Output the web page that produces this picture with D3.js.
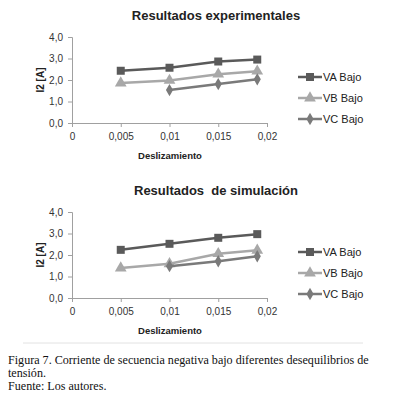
<!DOCTYPE html>
<html><head><meta charset="utf-8">
<script src="https://cdn.jsdelivr.net/npm/d3@7"></script>
<style>body{margin:0;background:#fff}svg{display:block}</style>
</head><body>
<script>
const xValues = [0.005, 0.01, 0.015, 0.019];
const seriesNames = ["VA Bajo", "VB Bajo", "VC Bajo"];
const expVA = [2.43, 2.57, 2.86, 2.95];
const expVB = [1.86, 1.98, 2.27, 2.41];
const expVC = [null, 1.53, 1.81, 2.03];
const simVA = [2.24, 2.52, 2.80, 2.97];
const simVB = [1.39, 1.59, 2.06, 2.22];
const simVC = [null, 1.48, 1.71, 1.94];
const xTicks = [0, 0.005, 0.01, 0.015, 0.02];
const yTicks = [0, 1, 2, 3, 4];
const titles = ["Resultados experimentales", "Resultados  de simulación"];
const xLabel = "Deslizamiento";
const yLabel = "I2 [A]";
const caption = ["Figura 7. Corriente de secuencia negativa bajo diferentes desequilibrios de", "tensión.", "Fuente: Los autores."];

const colors = ["#5a5a5a", "#a8a8a8", "#7a7a7a"];
const symbols = [d3.symbolSquare, d3.symbolTriangle, d3.symbolDiamond];
const symSizes = [64, 60, 44];

const svg = d3.select("body").append("svg").attr("width", 395).attr("height", 395);
const fmt = v => v === 0 ? "0" : String(v).replace(".", ",");
const fmtY = v => v.toFixed(1).replace(".", ",");

function panel(top, title, data) {
  const g = svg.append("g").attr("transform", `translate(0,${top})`);
  const x = d3.scaleLinear().domain([0, 0.02]).range([72, 267]);
  const y = d3.scaleLinear().domain([0, 4]).range([123, 37]);
  g.append("text").attr("x", 216).attr("y", 20).attr("text-anchor", "middle")
    .attr("font-family", "Liberation Sans, Arial, sans-serif").attr("font-size", 13).attr("font-weight", "bold")
    .style("white-space", "pre").attr("fill", "#222").text(title);
  const ya = g.append("g").attr("transform", "translate(72,0)")
    .call(d3.axisLeft(y).tickValues(yTicks).tickFormat(fmtY).tickSize(4).tickPadding(5));
  const xa = g.append("g").attr("transform", "translate(0,123)")
    .call(d3.axisBottom(x).tickValues(xTicks).tickFormat(fmt).tickSize(4).tickPadding(6));
  [ya, xa].forEach(a => {
    a.select(".domain").attr("stroke", "#a0a0a0");
    a.selectAll(".tick line").attr("stroke", "#a0a0a0");
    a.selectAll("text").attr("font-family", "Liberation Sans, Arial, sans-serif").attr("font-size", 10).attr("fill", "#333");
  });
  g.append("text").attr("x", 170).attr("y", 159).attr("text-anchor", "middle")
    .attr("font-family", "Liberation Sans, Arial, sans-serif").attr("font-size", 9.5).attr("font-weight", "bold")
    .attr("fill", "#222").text(xLabel);
  g.append("text").attr("transform", "translate(44,80) rotate(-90)").attr("text-anchor", "middle")
    .attr("font-family", "Liberation Sans, Arial, sans-serif").attr("font-size", 10).attr("font-weight", "bold")
    .attr("fill", "#222").text(yLabel);
  const line = d3.line().defined(d => d[1] != null).x(d => x(d[0])).y(d => y(d[1]));
  data.forEach((vals, i) => {
    const pts = xValues.map((xv, j) => [xv, vals[j]]);
    g.append("path").datum(pts).attr("d", line).attr("fill", "none")
      .attr("stroke", colors[i]).attr("stroke-width", 2.5);
    g.selectAll(null).data(pts.filter(d => d[1] != null)).enter().append("path")
      .attr("d", d3.symbol(symbols[i], symSizes[i])())
      .attr("transform", d => `translate(${x(d[0])},${y(d[1])})`).attr("fill", colors[i]);
    const ly = 77 + i * 21;
    g.append("line").attr("x1", 298).attr("x2", 322).attr("y1", ly).attr("y2", ly)
      .attr("stroke", colors[i]).attr("stroke-width", 2.5);
    g.append("path").attr("d", d3.symbol(symbols[i], symSizes[i])())
      .attr("transform", `translate(310,${ly})`).attr("fill", colors[i]);
    g.append("text").attr("x", 323).attr("y", ly + 4)
      .attr("font-family", "Liberation Sans, Arial, sans-serif").attr("font-size", 11)
      .attr("fill", "#222").text(seriesNames[i]);
  });
}
panel(0, titles[0], [expVA, expVB, expVC]);
panel(175, titles[1], [simVA, simVB, simVC]);

svg.append("line").attr("x1", 23).attr("x2", 363).attr("y1", 343).attr("y2", 343)
  .attr("stroke", "#e2e2e2").attr("stroke-width", 1);
caption.forEach((t, i) => {
  svg.append("text").attr("x", 8).attr("y", 364 + i * 13)
    .attr("font-family", "Liberation Serif, Times New Roman, serif").attr("font-size", 12.1)
    .attr("fill", "#111").text(t);
});
</script>
</body></html>
